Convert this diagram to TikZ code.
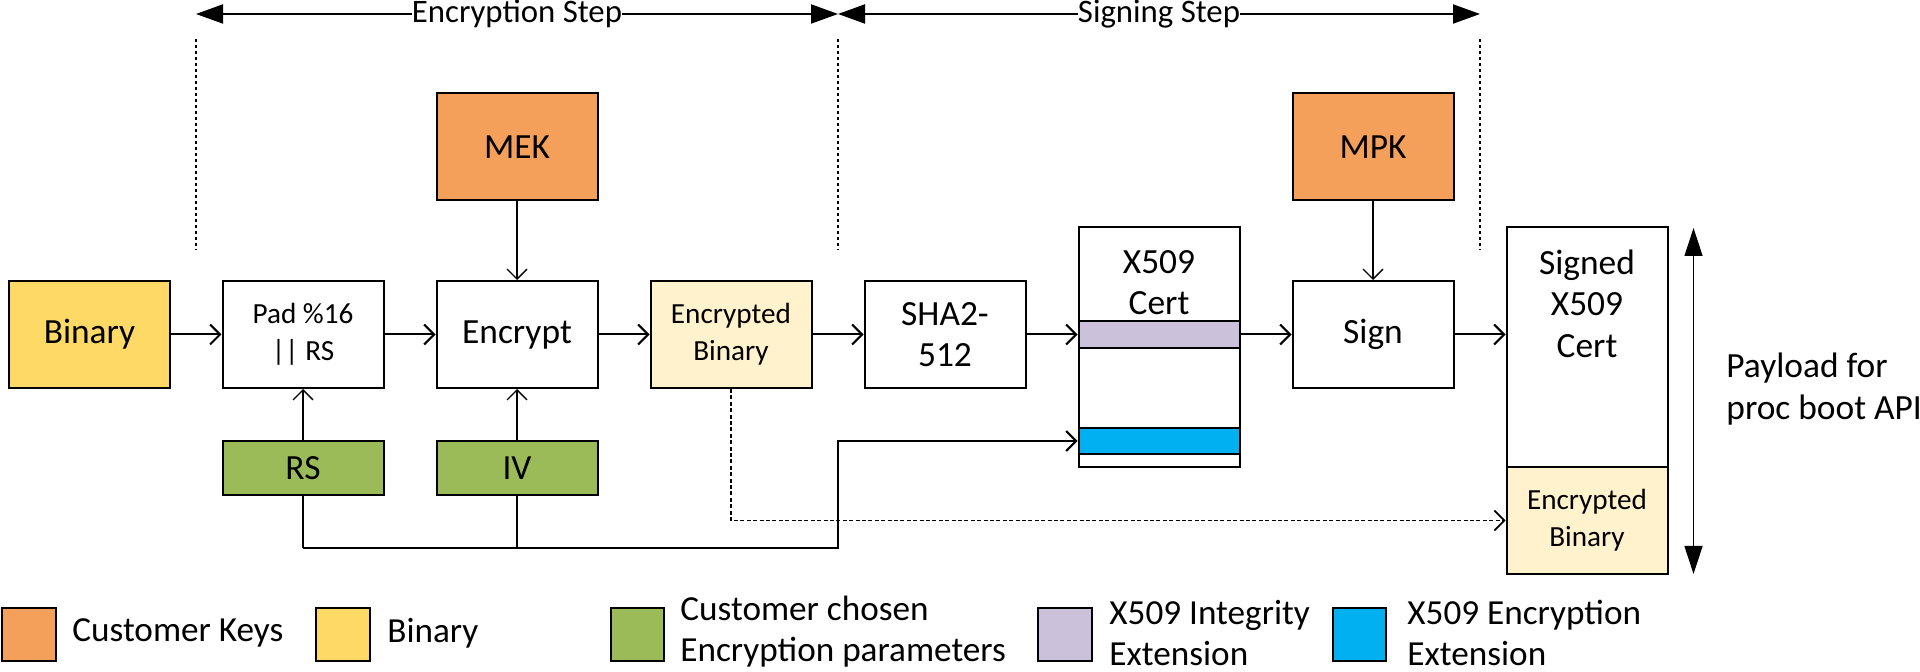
\documentclass[tikz,border=0pt]{standalone}
\usepackage{fontspec}
\setmainfont{Carlito}
\usetikzlibrary{arrows.meta}
\definecolor{keyor}{HTML}{F4A05A}
\definecolor{binyel}{HTML}{FFD966}
\definecolor{encyel}{HTML}{FFF2CC}
\definecolor{pargrn}{HTML}{9BBB59}
\definecolor{intpur}{HTML}{CCC1DA}
\definecolor{encblu}{HTML}{00B0F0}
\begin{document}
\begin{tikzpicture}[x=0.5pt,y=-0.5pt,
  bigfont/.style={font=\fontsize{17.7}{20.8}\selectfont},
  smallfont/.style={font=\fontsize{14.6}{18.3}\selectfont},
  box/.style={draw, line width=1pt, minimum width=80.5pt, minimum height=53.5pt, inner sep=0pt, align=center, bigfont},
  lowbox/.style={box, minimum height=27pt},
  band/.style={draw, line width=1pt, minimum width=80.5pt, minimum height=13.3pt, inner sep=0pt},
  lbl/.style={inner sep=0pt, align=center},
  flow/.style={line width=1pt, -{Straight Barb[length=5pt,width=10pt]}},
  thinflow/.style={line width=0.65pt, -{Straight Barb[length=5pt,width=10pt]}},
  dotflow/.style={line width=0.85pt, dash pattern=on 2pt off 1.2pt, -{Straight Barb[length=5pt,width=10pt]}},
  stepline/.style={line width=1pt, {Triangle[length=13.5pt,width=9.5pt]}-{Triangle[length=13.5pt,width=9.5pt]}},
  steplbl/.style={fill=white, inner sep=0pt, font=\fontsize{16.4}{19}\selectfont},
  stepdash/.style={line width=0.55pt, dash pattern=on 1.5pt off 1.5pt},
  payline/.style={line width=0.65pt, {Triangle[length=14pt,width=9pt]}-{Triangle[length=14pt,width=9pt]}},
  swatch/.style={draw, line width=1pt, minimum width=26.8pt, minimum height=26.6pt, inner sep=0pt},
  legtxt/.style={anchor=west, inner sep=0pt, align=left, font=\fontsize{17.6}{20.5}\selectfont},
]
\useasboundingbox (0,0) rectangle (1920,672);

% top step arrows
\coordinate (s1) at (196,14);
\coordinate (s2) at (838,14);
\coordinate (s3) at (1480,14);
\draw[stepline] (s1) -- node[steplbl] {Encryption Step} (s2);
\draw[stepline] (s2) -- node[steplbl] {Signing Step} (s3);

% dashed separators
\coordinate (d1a) at (196,39);  \coordinate (d1b) at (196,250);
\coordinate (d2a) at (838,39);  \coordinate (d2b) at (838,250);
\coordinate (d3a) at (1480,39); \coordinate (d3b) at (1480,250);
\draw[stepdash] (d1a) -- (d1b);
\draw[stepdash] (d2a) -- (d2b);
\draw[stepdash] (d3a) -- (d3b);

% key boxes
\node[box, fill=keyor] (mek) at (517,147) {MEK};
\node[box, fill=keyor] (mpk) at (1373,147) {MPK};

% main row
\node[box, fill=binyel] (bin) at (89.5,334.5) {Binary};
\node[box, smallfont] (pad) at (303,334.5) {Pad \%16\\|| RS};
\node[box] (enc) at (517,334.5) {Encrypt};
\node[box, fill=encyel, smallfont] (eb) at (731,334.5) {Encrypted\\Binary};
\node[box] (sha) at (945,334.5) {SHA2-\\512};
\node[box, minimum height=120pt] (x509) at (1159,347) {};
\node[band, fill=intpur] (integ) at (1159,334.5) {};
\node[band, fill=encblu] (encx) at (1159,441) {};
\node[lbl, bigfont] (x509t) at (1159,282.5) {X509\\Cert};
\node[box] (sign) at (1373,334.5) {Sign};
\node[box, minimum height=120pt] (signedtop) at (1587,347) {};
\node[lbl, bigfont] (signedt) at (1587,303.5) {Signed\\X509\\Cert};
\node[box, fill=encyel, smallfont] (signedeb) at (1587,520.5) {Encrypted\\Binary};

% parameters
\node[lowbox, fill=pargrn] (rs) at (303,468) {RS};
\node[lowbox, fill=pargrn] (iv) at (517,468) {IV};

% main flow
\draw[flow] (bin) -- (pad);
\draw[flow] (pad) -- (enc);
\draw[flow] (enc) -- (eb);
\draw[flow] (eb) -- (sha);
\draw[flow] (sha) -- (integ);
\draw[flow] (integ) -- (sign);
\draw[flow] (sign.east) -- (sign.east -| signedtop.west);
\draw[thinflow] (mek) -- (enc);
\draw[thinflow] (mpk) -- (sign);
\draw[thinflow] (rs) -- (pad);
\draw[thinflow] (iv) -- (enc);

% parameters to encryption extension
\coordinate (bl) at (303,548);
\coordinate (bm) at (517,548);
\coordinate (br) at (838,548);
\coordinate (bu) at (838,441);
\draw[line width=0.65pt] (rs.south) -- (bl);
\draw[line width=0.65pt] (iv.south) -- (bm);
\draw[flow] (bl) -- (br) -- (bu) -- (encx.west);

% encrypted binary to payload
\draw[dotflow] (eb.south) |- (signedeb.west);

% payload arrow
\coordinate (pa) at (1693.5,228);
\coordinate (pb) at (1693.5,574);
\draw[payline] (pa) -- (pb);
\node[anchor=west, inner sep=0pt, align=left, bigfont] (payt) at (1726,389) {Payload for\\proc boot API};

% legend
\node[swatch, fill=keyor] (lg1) at (28.7,634.3) {};
\node[legtxt] (lt1) at (72,633) {Customer Keys};
\node[swatch, fill=binyel] (lg2) at (343,634.3) {};
\node[legtxt] (lt2) at (387,633) {Binary};
\node[swatch, fill=pargrn] (lg3) at (637.3,634.3) {};
\node[legtxt] (lt3) at (680,631.5) {Customer chosen\\Encryption parameters};
\node[swatch, fill=intpur] (lg4) at (1065,634.3) {};
\node[legtxt] (lt4) at (1109,633) {X509 Integrity\\Extension};
\node[swatch, fill=encblu] (lg5) at (1359.5,634.3) {};
\node[legtxt] (lt5) at (1407,633) {X509 Encryption\\Extension};
\end{tikzpicture}
\end{document}
